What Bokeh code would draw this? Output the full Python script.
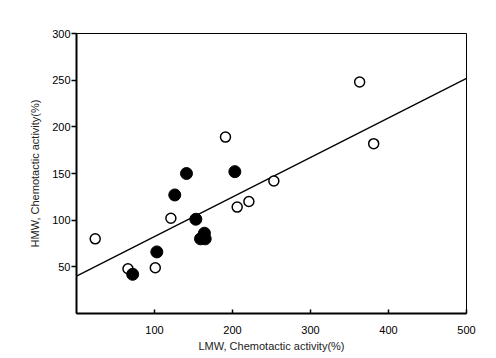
from bokeh.plotting import figure
from bokeh.models import FixedTicker, Range1d
from bokeh.embed import file_html
from bokeh.resources import INLINE

# Data
open_x = [24, 66, 101, 121, 191, 206, 221, 253, 363, 381]
open_y = [80, 48, 49, 102, 189, 114, 120, 142, 248, 182]
filled_x = [72, 103, 126, 141, 153, 159, 165, 164, 203]
filled_y = [42, 66, 127, 150, 101, 80, 80, 86, 152]
line_x = [0, 500]
line_y = [40, 252]
x_ticks = [100, 200, 300, 400, 500]
y_ticks = [50, 100, 150, 200, 250, 300]

FONT = "Liberation Sans"

p = figure(width=480, height=354, output_backend="svg", toolbar_location=None,
           x_range=Range1d(0, 500), y_range=Range1d(0, 300),
           min_border_left=76, min_border_right=14, min_border_top=33, min_border_bottom=39)
p.xgrid.visible = False
p.ygrid.visible = False
p.outline_line_color = "black"
p.outline_line_width = 1
p.background_fill_color = "white"
p.border_fill_color = "white"

p.line(line_x, line_y, line_color="black", line_width=1.3)
p.scatter(open_x, open_y, marker="circle", size=10, fill_color="white",
          line_color="black", line_width=1.5)
p.scatter(filled_x, filled_y, marker="circle", size=12, fill_color="black",
          line_color="black", line_width=1)

xa = p.xaxis[0]
xa.ticker = FixedTicker(ticks=x_ticks)
xa.axis_label = "LMW, Chemotactic activity(%)"
xa.major_tick_in = 4
xa.major_tick_out = 0
xa.minor_tick_in = 0
xa.minor_tick_out = 0
xa.major_label_standoff = 12
xa.axis_label_standoff = 3

ya = p.yaxis[0]
ya.ticker = FixedTicker(ticks=y_ticks)
ya.axis_label = "HMW, Chemotactic activity(%)"
ya.major_tick_in = 0
ya.major_tick_out = 5
ya.minor_tick_in = 0
ya.minor_tick_out = 0
ya.major_label_standoff = 1
ya.axis_label_standoff = 8

for ax in (xa, ya):
    ax.axis_line_width = 2
    ax.axis_line_color = "black"
    ax.major_tick_line_color = "black"
    ax.major_tick_line_width = 1.5
    ax.major_label_text_font = FONT
    ax.major_label_text_font_size = "11px"
    ax.major_label_text_color = "black"
    ax.axis_label_text_font = FONT
    ax.axis_label_text_font_size = "11px"
    ax.axis_label_text_font_style = "normal"
    ax.axis_label_text_color = "#222222"

open("out.html", "w").write(file_html(p, INLINE))
